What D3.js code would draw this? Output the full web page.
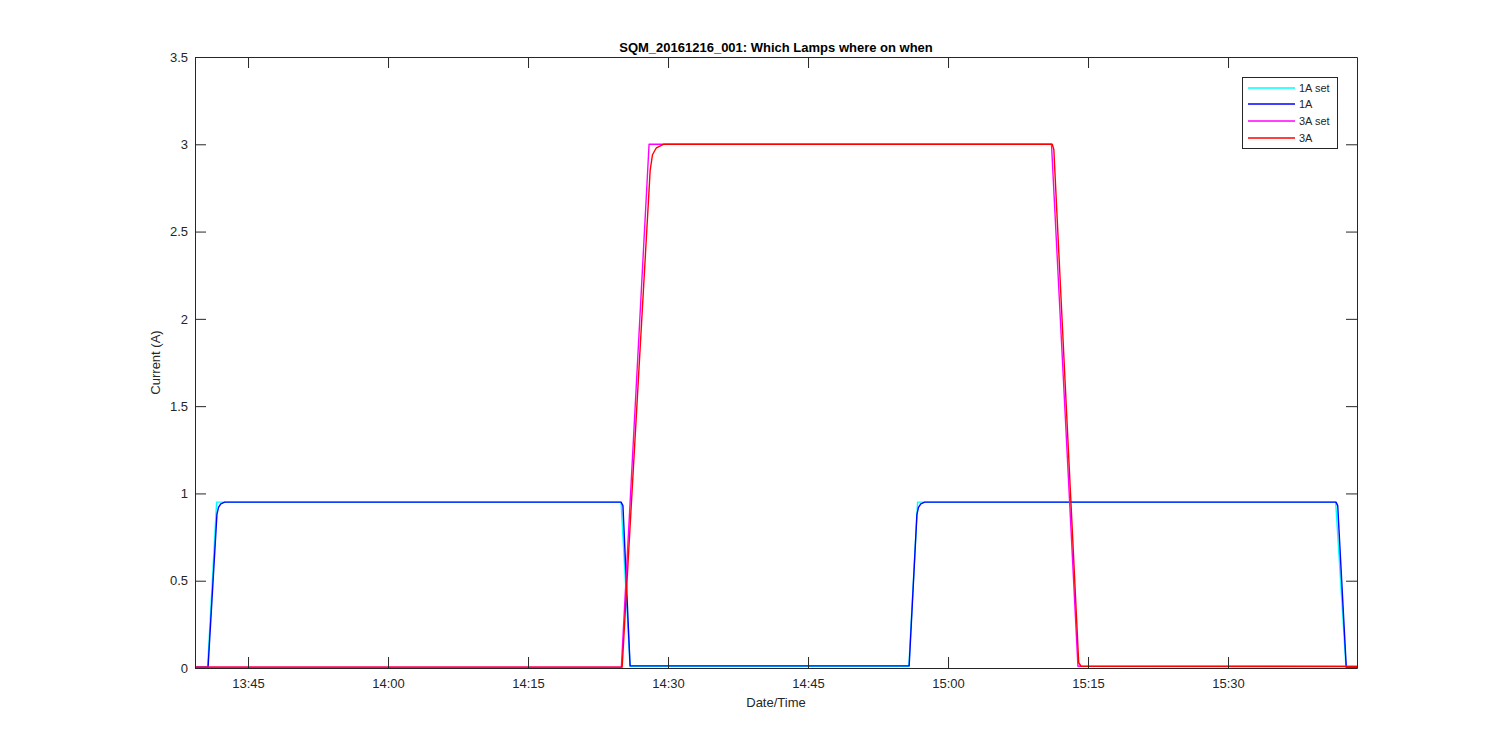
<!DOCTYPE html>
<html>
<head>
<meta charset="utf-8">
<script src="https://cdn.jsdelivr.net/npm/d3@7"></script>
<style>
  html, body { margin: 0; padding: 0; background: #fff; }
  svg text { font-family: "Liberation Sans", Arial, Helvetica, sans-serif; fill: #262626; }
</style>
</head>
<body>
<div id="chart"></div>
<script>
// time window and ticks
const xStart = '13:39:19';
const xEnd   = '15:43:49';
const xTickTimes = ['13:45','14:00','14:15','14:30','14:45','15:00','15:15','15:30'];
const yTicks = [0, 0.5, 1, 1.5, 2, 2.5, 3, 3.5];

// 1A set
const set1Times = ['13:39:19','13:40:40','13:41:38','14:24:58','14:25:56','14:55:48','14:56:44','15:41:32','15:42:38','15:43:49'];
const set1Vals  = [0.005, 0.005, 0.95, 0.95, 0.01, 0.01, 0.95, 0.95, 0.005, 0.005];

// 1A measured
const cur1Times = ['13:39:19','13:40:43','13:41:40','13:41:50','13:42:05','13:42:30','14:24:58','14:25:10','14:25:56',
                   '14:55:50','14:56:40','14:56:50','14:57:05','14:57:30','15:41:34','15:41:45','15:42:40','15:43:49'];
const cur1Vals  = [0.005, 0.005, 0.88, 0.92, 0.94, 0.95, 0.95, 0.93, 0.012,
                   0.012, 0.88, 0.92, 0.94, 0.95, 0.95, 0.93, 0.005, 0.005];

// 3A set
const set3Times = ['13:39:19','14:25:00','14:27:58','15:11:05','15:13:55','15:43:49'];
const set3Vals  = [0.005, 0.005, 3.0, 3.0, 0.01, 0.01];

// 3A measured
const cur3Times = ['13:39:19','14:25:05','14:28:05','14:28:20','14:28:45','14:29:30','15:11:10','15:11:20','15:14:00','15:14:15','15:43:49'];
const cur3Vals  = [0.005, 0.005, 2.85, 2.94, 2.98, 3.0, 3.0, 2.97, 0.03, 0.01, 0.008];

const seriesNames  = ['1A set', '1A', '3A set', '3A'];
const seriesColors = ['#00ffff', '#0000ff', '#ff00ff', '#ff0000'];

const parseT = s => {
  const p = s.split(':').map(Number);
  return new Date(2016, 11, 16, p[0], p[1], p[2] || 0);
};
const toPts = (ts, vs) => ts.map((t, i) => ({ t: parseT(t), v: vs[i] }));
const series = [
  toPts(set1Times, set1Vals),
  toPts(cur1Times, cur1Vals),
  toPts(set3Times, set3Vals),
  toPts(cur3Times, cur3Vals)
];

const W = 1500, H = 750;
const m = { left: 195, top: 57, right: 143, bottom: 82 };
const pw = W - m.left - m.right;
const ph = H - m.top - m.bottom;
const tickLen = 11;

const svg = d3.select('#chart').append('svg').attr('width', W).attr('height', H);

const x = d3.scaleTime().domain([parseT(xStart), parseT(xEnd)]).range([m.left, m.left + pw]);
const y = d3.scaleLinear().domain([0, 3.5]).range([m.top + ph, m.top]);

// data lines
const line = d3.line().x(d => x(d.t)).y(d => y(d.v));
const plot = svg.append('g');
series.forEach((s, i) => {
  plot.append('path').datum(s)
    .attr('d', line)
    .attr('fill', 'none')
    .attr('stroke', seriesColors[i])
    .attr('stroke-width', 1.4)
    .attr('stroke-linejoin', 'round');
});

// axes (MATLAB-style inward ticks, box on)
const xTicks = xTickTimes.map(parseT);
const fmt = d3.timeFormat('%H:%M');

const xb = svg.append('g').attr('transform', `translate(0,${m.top + ph})`)
  .call(d3.axisBottom(x).tickValues(xTicks).tickFormat(fmt).tickSizeInner(-tickLen).tickSizeOuter(0).tickPadding(11));
const xt = svg.append('g').attr('transform', `translate(0,${m.top})`)
  .call(d3.axisTop(x).tickValues(xTicks).tickFormat('').tickSizeInner(-tickLen).tickSizeOuter(0));
const yl = svg.append('g').attr('transform', `translate(${m.left},0)`)
  .call(d3.axisLeft(y).tickValues(yTicks).tickFormat(d3.format('~g')).tickSizeInner(-tickLen).tickSizeOuter(0).tickPadding(7));
const yr = svg.append('g').attr('transform', `translate(${m.left + pw},0)`)
  .call(d3.axisRight(y).tickValues(yTicks).tickFormat('').tickSizeInner(-tickLen).tickSizeOuter(0));

[xb, xt, yl, yr].forEach(g => {
  g.selectAll('path.domain').attr('stroke', '#262626').attr('stroke-width', 1);
  g.selectAll('.tick line').attr('stroke', '#262626').attr('stroke-width', 1);
  g.selectAll('.tick text').attr('font-size', 13).attr('fill', '#262626')
    .attr('font-family', '"Liberation Sans", Arial, sans-serif');
});

// labels
svg.append('text').attr('x', m.left + pw / 2).attr('y', 52)
  .attr('text-anchor', 'middle').attr('font-size', 13).attr('font-weight', 'bold')
  .style('fill', '#000')
  .text('SQM_20161216_001: Which Lamps where on when');

svg.append('text').attr('x', m.left + pw / 2).attr('y', 707)
  .attr('text-anchor', 'middle').attr('font-size', 13)
  .text('Date/Time');

svg.append('text').attr('transform', `translate(160,${m.top + ph / 2}) rotate(-90)`)
  .attr('text-anchor', 'middle').attr('font-size', 13)
  .text('Current (A)');

// legend
const lg = svg.append('g');
lg.append('rect').attr('x', 1242.5).attr('y', 77.5).attr('width', 95).attr('height', 71)
  .attr('fill', '#fff').attr('stroke', '#262626').attr('stroke-width', 1);
const rowY = [88, 104, 121, 138];
seriesNames.forEach((name, i) => {
  lg.append('line').attr('x1', 1248).attr('x2', 1295).attr('y1', rowY[i]).attr('y2', rowY[i])
    .attr('stroke', seriesColors[i]).attr('stroke-width', 1.4);
  lg.append('text').attr('x', 1299).attr('y', rowY[i] + 4)
    .attr('font-size', 11).text(name);
});
</script>
</body>
</html>
